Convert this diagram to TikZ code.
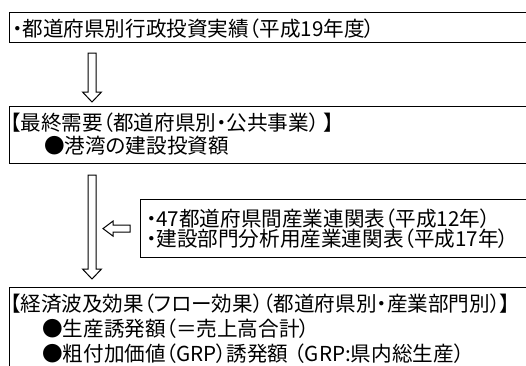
\documentclass[tikz,border=0pt]{standalone}
\usepackage{fontspec}
\setmainfont{Noto Sans CJK JP}[RawFeature=+palt]
\usetikzlibrary{calc}
\tikzset{
  box/.style={draw, line width=1.2pt, inner sep=0pt, anchor=north west, minimum width=#1},
  box/.default=560pt,
  txt/.style={inner sep=0pt, anchor=base west, font=\fontsize{20.6pt}{24pt}\selectfont},
  blockarrow/.style={draw, line width=1pt, fill=white, line join=miter}
}
\begin{document}
\begin{tikzpicture}[x=1pt, y=-1pt]
\useasboundingbox (0,0) rectangle (526,365);
% boxes
\node[box, minimum height=30pt] (b1) at (9,12) {};
\node[box, minimum height=57pt] (b2) at (9,106) {};
\node[box=420pt, minimum height=58pt] (b3) at (140,199) {};
\node[box, minimum height=120pt] (b4) at (9,287) {};
% texts
\node[txt] (t1) at (12,36) {・都道府県別行政投資実績（平成19年度）};
\node[txt] (t2a) at (10,130) {【最終需要（都道府県別・公共事業） 】};
\node[txt] (t2b) at (44,153.5) {●港湾の建設投資額};
\node[txt] (t3a) at (146,226.5) {・47都道府県間産業連関表（平成12年）};
\node[txt] (t3b) at (146,246.5) {・建設部門分析用産業連関表（平成17年）};
\node[txt] (t4a) at (10,311.5) {【経済波及効果（フロー効果）（都道府県別・産業部門別）】};
\node[txt] (t4b) at (42,336.5) {●生産誘発額（＝売上高合計）};
\node[txt] (t4c) at (42,361.5) {●粗付加価値（GRP）誘発額\hspace{6pt}（GRP:県内総生産）};
% connector end points
\coordinate (a1s) at ($(b1.south west)+(83,10)$);
\coordinate (a1e) at ($(b2.north west)+(83,-4)$);
\coordinate (a2s) at ($(b2.south west)+(83,11)$);
\coordinate (a2e) at ($(b4.north west)+(83,-8)$);
\coordinate (a3s) at ($(b3.west)+(-10,0)$);
\coordinate (a3e) at ($(b3.west)+(-37,0)$);
% down block arrows
\foreach \s/\e in {a1s/a1e, a2s/a2e}{
  \draw[blockarrow] let \p1=(\s), \p2=(\e) in
    (\x1-4pt,\y1) -- (\x1+4pt,\y1) -- (\x1+4pt,\y2+10pt) -- (\x1+9.5pt,\y2+10pt)
    -- (\x1,\y2) -- (\x1-9.5pt,\y2+10pt) -- (\x1-4pt,\y2+10pt) -- cycle;
}
% left block arrow
\draw[blockarrow] let \p1=(a3s), \p2=(a3e) in
  (\x1,\y1+3.5pt) -- (\x2+10pt,\y1+3.5pt) -- (\x2+10pt,\y1+7.5pt) -- (\x2,\y1)
  -- (\x2+10pt,\y1-7.5pt) -- (\x2+10pt,\y1-3.5pt) -- (\x1,\y1-3.5pt) -- cycle;
\end{tikzpicture}
\end{document}
